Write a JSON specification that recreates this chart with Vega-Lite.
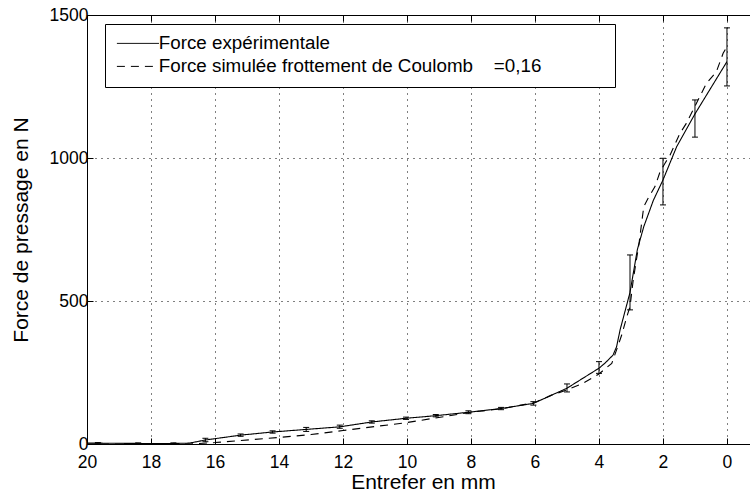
{
  "$schema": "https://vega.github.io/schema/vega-lite/v6.json",
  "width": 663,
  "height": 429,
  "autosize": "none",
  "padding": {"left": 87, "top": 15, "right": 0, "bottom": 49},
  "background": "white",
  "config": {
    "view": {"stroke": null},
    "font": "Liberation Sans",
    "axis": {
      "domainColor": "black", "domainWidth": 1, "tickColor": "black", "tickSize": -6, "tickWidth": 1,
      "labelColor": "black", "titleColor": "black", "labelFont": "Liberation Sans", "titleFont": "Liberation Sans",
      "labelFontSize": 17.5, "titleFontSize": 21, "titleFontWeight": "normal",
      "gridColor": "black", "gridDash": [1, 5], "gridOpacity": 1, "gridWidth": 1,
      "labelFlush": false, "labelOverlap": false
    },
    "legend": {
      "labelFont": "Liberation Sans", "labelFontSize": 18.8, "labelColor": "black", "labelLimit": 800
    }
  },
  "datasets": {
    "curves": [
      {"x": 20, "F": 3, "s": "exp"},
      {"x": 19.66, "F": 3, "s": "exp"},
      {"x": 18.4, "F": 2, "s": "exp"},
      {"x": 17.3, "F": 2, "s": "exp"},
      {"x": 16.8, "F": 3, "s": "exp"},
      {"x": 16.3, "F": 14, "s": "exp"},
      {"x": 15.2, "F": 31, "s": "exp"},
      {"x": 14.2, "F": 42, "s": "exp"},
      {"x": 13.15, "F": 51, "s": "exp"},
      {"x": 12.1, "F": 60, "s": "exp"},
      {"x": 11.1, "F": 77, "s": "exp"},
      {"x": 10.03, "F": 90, "s": "exp"},
      {"x": 9.1, "F": 99, "s": "exp"},
      {"x": 8.08, "F": 111, "s": "exp"},
      {"x": 7.06, "F": 124, "s": "exp"},
      {"x": 6.05, "F": 142, "s": "exp"},
      {"x": 5.0, "F": 195, "s": "exp"},
      {"x": 4.0, "F": 265, "s": "exp"},
      {"x": 3.8, "F": 284, "s": "exp"},
      {"x": 3.56, "F": 311, "s": "exp"},
      {"x": 3.45, "F": 340, "s": "exp"},
      {"x": 3.34, "F": 399, "s": "exp"},
      {"x": 3.03, "F": 530, "s": "exp"},
      {"x": 2.8, "F": 680, "s": "exp"},
      {"x": 2.6, "F": 760, "s": "exp"},
      {"x": 2.3, "F": 852, "s": "exp"},
      {"x": 2.0, "F": 923, "s": "exp"},
      {"x": 1.57, "F": 1040, "s": "exp"},
      {"x": 1.0, "F": 1154, "s": "exp"},
      {"x": 0, "F": 1337, "s": "exp"},
      {"x": 20, "F": 0, "s": "sim"},
      {"x": 16.8, "F": 0, "s": "sim"},
      {"x": 16.0, "F": 5, "s": "sim"},
      {"x": 14.0, "F": 23, "s": "sim"},
      {"x": 13.0, "F": 33, "s": "sim"},
      {"x": 12.0, "F": 47, "s": "sim"},
      {"x": 10.0, "F": 75, "s": "sim"},
      {"x": 8.0, "F": 111, "s": "sim"},
      {"x": 7.0, "F": 124, "s": "sim"},
      {"x": 6.0, "F": 145, "s": "sim"},
      {"x": 5.5, "F": 170, "s": "sim"},
      {"x": 5.0, "F": 189, "s": "sim"},
      {"x": 4.5, "F": 212, "s": "sim"},
      {"x": 4.0, "F": 245, "s": "sim"},
      {"x": 3.6, "F": 282, "s": "sim"},
      {"x": 3.45, "F": 329, "s": "sim"},
      {"x": 3.29, "F": 381, "s": "sim"},
      {"x": 3.13, "F": 445, "s": "sim"},
      {"x": 3.03, "F": 480, "s": "sim"},
      {"x": 2.93, "F": 573, "s": "sim"},
      {"x": 2.75, "F": 700, "s": "sim"},
      {"x": 2.6, "F": 830, "s": "sim"},
      {"x": 2.46, "F": 860, "s": "sim"},
      {"x": 2.25, "F": 900, "s": "sim"},
      {"x": 2.09, "F": 952, "s": "sim"},
      {"x": 1.94, "F": 981, "s": "sim"},
      {"x": 1.78, "F": 1010, "s": "sim"},
      {"x": 1.47, "F": 1086, "s": "sim"},
      {"x": 1.27, "F": 1121, "s": "sim"},
      {"x": 0.64, "F": 1261, "s": "sim"},
      {"x": 0.33, "F": 1302, "s": "sim"},
      {"x": 0.12, "F": 1366, "s": "sim"},
      {"x": 0, "F": 1389, "s": "sim"}
    ],
    "err": [
      {"x": 19.66, "lo": 1, "hi": 5},
      {"x": 18.4, "lo": 0, "hi": 4},
      {"x": 17.3, "lo": 0, "hi": 4},
      {"x": 16.3, "lo": 8, "hi": 20},
      {"x": 15.2, "lo": 27, "hi": 35},
      {"x": 14.2, "lo": 38, "hi": 46},
      {"x": 13.15, "lo": 44, "hi": 58},
      {"x": 12.1, "lo": 55, "hi": 66},
      {"x": 11.1, "lo": 73, "hi": 81},
      {"x": 10.03, "lo": 86, "hi": 94},
      {"x": 9.1, "lo": 95, "hi": 103},
      {"x": 8.08, "lo": 106, "hi": 116},
      {"x": 7.06, "lo": 120, "hi": 128},
      {"x": 6.05, "lo": 136, "hi": 148},
      {"x": 5.0, "lo": 182, "hi": 210},
      {"x": 4.0, "lo": 247, "hi": 288},
      {"x": 3.03, "lo": 469, "hi": 661},
      {"x": 2.0, "lo": 836, "hi": 999},
      {"x": 1.0, "lo": 1073, "hi": 1203},
      {"x": 0, "lo": 1252, "hi": 1455}
    ]
  },
  "resolve": {"axis": {"x": "independent"}},
  "layer": [
    {
      "data": {"name": "curves"},
      "mark": {"type": "line", "color": "black", "strokeWidth": 1.1, "clip": true},
      "encoding": {
        "x": {"field": "x", "type": "quantitative",
          "scale": {"domain": [-0.72, 20], "reverse": true, "nice": false, "zero": false},
          "axis": {"orient": "bottom", "title": "Entrefer en mm", "values": [0, 2, 4, 6, 8, 10, 12, 14, 16, 18, 20], "grid": true, "labelPadding": 15, "titlePadding": 1, "titleX": 336}},
        "y": {"field": "F", "type": "quantitative",
          "scale": {"domain": [0, 1500], "nice": false},
          "axis": {"title": "Force de pressage en N", "format": "d", "values": [0, 500, 1000, 1500], "grid": true, "labelPadding": 5, "titlePadding": 18}},
        "strokeDash": {"field": "s", "type": "nominal",
          "scale": {"domain": ["exp", "sim"], "range": [[1, 0], [8, 6]]},
          "legend": {"title": null, "orient": "none", "legendX": 18, "legendY": 9,
            "strokeColor": "black", "fillColor": "white", "padding": 10,
            "labelExpr": "datum.value == 'exp' ? 'Force expérimentale' : 'Force simulée frottement de Coulomb\u00a0\u00a0\u00a0\u00a0=0,16\u00a0\u00a0\u00a0\u00a0\u00a0\u00a0\u00a0\u00a0\u00a0\u00a0\u00a0\u00a0\u200b'",
            "symbolType": "M-1.5,0H6.9", "symbolSize": 100, "symbolStrokeWidth": 1, "symbolStrokeColor": "black",
            "labelOffset": 25, "rowPadding": 3}},
        "order": {"field": "x", "type": "quantitative", "sort": "descending"}
      }
    },
    {
      "data": {"name": "err"},
      "mark": {"type": "errorbar", "color": "black", "opacity": 1, "ticks": {"size": 6, "color": "black", "opacity": 1}, "rule": {"color": "black", "strokeWidth": 1, "opacity": 1}},
      "encoding": {
        "x": {"field": "x", "type": "quantitative",
          "axis": {"orient": "top", "title": null, "labels": false, "grid": false, "values": [0, 2, 4, 6, 8, 10, 12, 14, 16, 18, 20]}},
        "y": {"field": "lo", "type": "quantitative", "axis": {"title": "Force de pressage en N", "format": "d", "values": [0, 500, 1000, 1500], "grid": true, "labelPadding": 5, "titlePadding": 18}},
        "y2": {"field": "hi"}
      }
    }
  ]
}
